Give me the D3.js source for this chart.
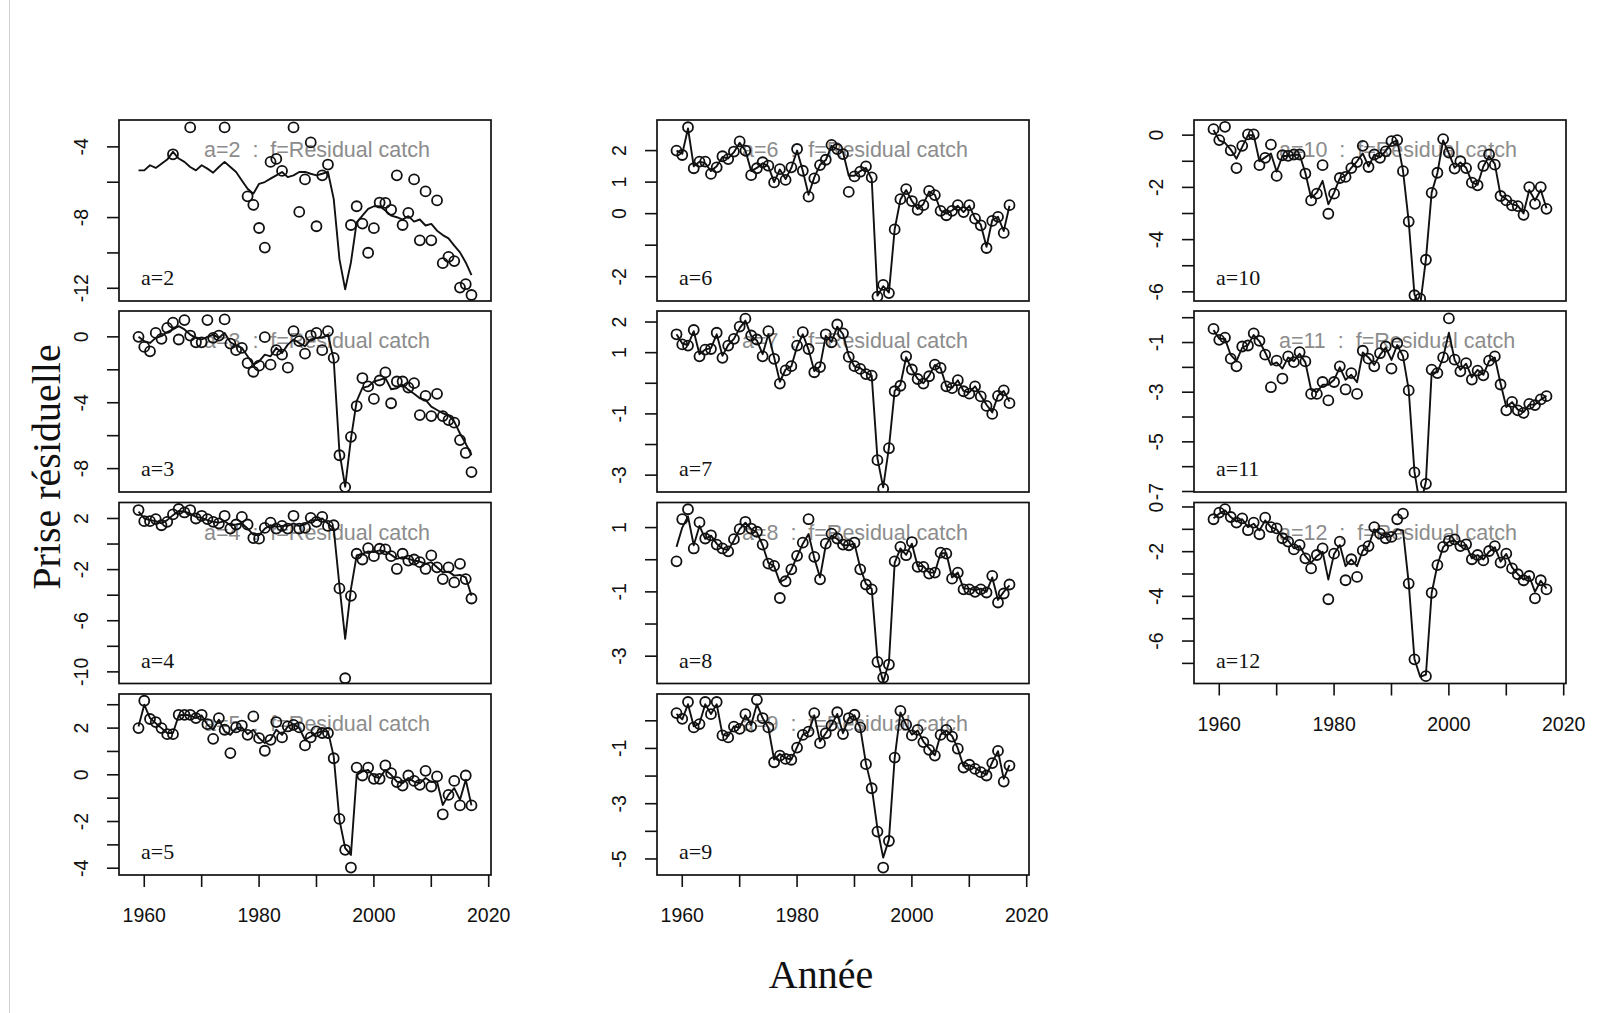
<!DOCTYPE html>
<html>
<head>
<meta charset="utf-8">
<script src="https://cdn.jsdelivr.net/npm/d3@7/dist/d3.min.js"></script>
<style>
  body { margin: 0; background: #fff; }
  svg { display: block; }
</style>
</head>
<body>
<svg id="chart"></svg>
<script>
// years 1959..2017
const years = [1959, 1960, 1961, 1962, 1963, 1964, 1965, 1966, 1967, 1968,
  1969, 1970, 1971, 1972, 1973, 1974, 1975, 1976, 1977, 1978,
  1979, 1980, 1981, 1982, 1983, 1984, 1985, 1986, 1987, 1988,
  1989, 1990, 1991, 1992, 1993, 1994, 1995, 1996, 1997, 1998,
  1999, 2000, 2001, 2002, 2003, 2004, 2005, 2006, 2007, 2008,
  2009, 2010, 2011, 2012, 2013, 2014, 2015, 2016, 2017];

// observed residual catch (circles) and fitted (line), one pair per age
const obsA2 = [null, null, null, null, null, null, -4.42, null, null, -2.9,
  null, null, null, null, null, -2.9, null, null, null, -6.8,
  -7.28, -8.59, -9.7, -4.85, -4.68, -5.36, null, -2.9, -7.68, -5.84,
  -3.75, -8.49, -5.61, -5.0, null, null, null, -8.42, -7.36, -8.34,
  -9.99, -8.6, -7.15, -7.17, -7.56, -5.61, -8.42, -7.73, -5.84, -9.29,
  -6.52, -9.29, -7.03, -10.58, -10.22, -10.46, -11.96, -11.77, -12.38];
const fitA2 = [-5.33, -5.33, -5.04, -5.19, -4.95, -4.72, -4.28, -4.66, -4.85, -5.14,
  -5.33, -5.04, -5.23, -5.46, -5.14, -4.85, -5.14, -5.42, -5.9, -6.37,
  -6.65, -6.09, -5.99, -5.8, -5.61, -5.42, -5.71, -5.61, -5.42, -5.42,
  -5.52, -5.61, -5.52, -5.42, -6.94, -10.35, -12.06, -10.54, -8.27, -7.89,
  -7.51, -7.36, -7.36, -7.6, -7.89, -7.98, -8.11, -7.92, -8.23, -8.11,
  -8.45, -8.36, -8.74, -8.99, -9.18, -9.59, -9.97, -10.54, -11.26];

const obsA3 = [0, -0.61, -0.88, 0.24, -0.12, 0.55, 0.86, -0.16, 1.02, 0.08,
  -0.33, -0.33, 1.02, -0.06, 0.08, 1.06, -0.41, -0.81, -0.67, -1.59,
  -2.12, -1.75, -0.02, -1.69, -0.81, -1.08, -1.87, 0.35, -0.26, -1.02,
  0.08, 0.24, -0.81, 0.35, -1.28, -7.19, -9.12, -6.07, -4.2, -2.5,
  -3.01, -3.77, -2.65, -2.16, -4.03, -2.71, -2.71, -3.08, -2.81, -4.75,
  -3.58, -4.81, -3.46, -4.81, -5.05, -5.21, -6.27, -7.05, -8.21];
const fitA3 = [0, -0.26, -0.37, -0.06, 0.04, 0.29, 0.45, 0.65, 0.45, 0.14,
  -0.06, -0.16, 0, 0.14, -0.06, 0.24, -0.33, -0.53, -0.67, -1.18,
  -1.69, -1.49, -1.08, -1.18, -0.67, -0.98, -0.47, -0.16, -0.37, -0.57,
  -0.16, -0.06, -0.06, 0.14, -1.38, -7.0, -9.1, -6.2, -3.9, -3.1,
  -3.01, -2.71, -2.61, -2.5, -3.18, -3.12, -2.91, -3.22, -3.46, -3.73,
  -3.83, -4.24, -4.44, -4.64, -4.75, -5.15, -5.87, -6.48, -7.19];

const obsA4 = [2.66, 1.79, 1.79, 1.95, 1.47, 1.74, 2.32, 2.74, 2.47, 2.66,
  2.0, 2.21, 1.95, 1.74, 1.61, 2.21, 1.21, 1.53, 2.13, 1.53,
  0.47, 0.42, 1.26, 1.68, 1.21, 1.42, 1.21, 2.21, 1.21, 1.26,
  2.05, 1.74, 2.13, 1.42, 1.47, -3.47, -10.5, -4.05, -0.76, -1.21,
  -0.32, -0.95, -0.37, -0.42, -0.95, -1.95, -0.76, -1.29, -1.21, -1.42,
  -1.95, -0.89, -1.82, -2.74, -1.82, -3.0, -1.55, -2.74, -4.26];
const fitA4 = [2.53, 2.0, 1.87, 1.79, 1.61, 1.87, 2.26, 2.58, 2.53, 2.39,
  2.13, 2.05, 1.87, 1.74, 1.68, 1.79, 1.47, 1.53, 1.61, 1.21,
  0.74, 0.68, 1.21, 1.47, 1.34, 1.42, 1.42, 1.61, 1.42, 1.53,
  1.87, 1.87, 2.0, 1.61, 1.21, -3.26, -7.42, -3.53, -0.89, -0.76,
  -0.58, -0.63, -0.5, -0.58, -0.84, -1.16, -1.03, -1.16, -1.29, -1.37,
  -1.55, -1.42, -1.82, -2.21, -2.16, -2.47, -2.42, -2.61, -4.05];

const obsA5 = [2.0, 3.17, 2.39, 2.26, 2.0, 1.74, 1.74, 2.57, 2.57, 2.57,
  2.43, 2.57, 2.17, 1.54, 2.43, 1.93, 0.93, 2.03, 2.11, 1.71,
  2.5, 1.57, 1.03, 1.5, 2.26, 1.6, 2.07, 2.14, 2.03, 1.26,
  1.6, 1.86, 1.79, 1.79, 0.71, -1.89, -3.21, -3.97, 0.31, -0.03,
  0.31, -0.17, -0.17, 0.4, 0.07, -0.31, -0.46, -0.03, -0.26, -0.43,
  0.17, -0.5, -0.07, -1.69, -0.86, -0.26, -1.31, -0.03, -1.31];
const fitA5 = [2.07, 3.0, 2.43, 2.21, 2.0, 1.79, 1.79, 2.54, 2.57, 2.54,
  2.43, 2.54, 2.14, 1.93, 2.36, 1.86, 1.71, 2.0, 2.03, 1.74,
  1.93, 1.57, 1.36, 1.5, 1.93, 1.71, 2.07, 2.17, 2.0, 1.5,
  1.64, 1.79, 1.86, 1.86, 0.79, -1.93, -3.14, -3.43, 0, 0.14,
  0.21, -0.07, -0.14, 0.21, 0, -0.29, -0.36, -0.14, -0.29, -0.36,
  -0.14, -0.31, -0.29, -1.29, -0.86, -0.57, -1.07, -0.21, -1.31];

const obsA6 = [2.0, 1.86, 2.74, 1.44, 1.65, 1.65, 1.26, 1.47, 1.82, 1.73,
  1.97, 2.29, 2.0, 1.22, 1.44, 1.63, 1.52, 0.99, 1.41, 1.07,
  1.47, 2.05, 1.36, 0.54, 1.12, 1.54, 1.71, 2.18, 2.05, 1.89,
  0.69, 1.18, 1.33, 1.5, 1.15, -2.63, -2.26, -2.52, -0.5, 0.46,
  0.78, 0.4, 0.12, 0.27, 0.72, 0.59, 0.09, -0.05, 0.09, 0.27,
  0.05, 0.27, -0.16, -0.37, -1.09, -0.23, -0.1, -0.61, 0.27];
const fitA6 = [2.0, 1.9, 2.7, 1.5, 1.65, 1.6, 1.35, 1.5, 1.8, 1.75,
  1.95, 2.25, 2.0, 1.35, 1.45, 1.6, 1.5, 1.0, 1.4, 1.1,
  1.45, 2.0, 1.35, 0.6, 1.15, 1.55, 1.7, 2.15, 2.05, 1.95,
  1.2, 1.2, 1.35, 1.45, 1.1, -2.6, -2.3, -2.5, -0.5, 0.45,
  0.75, 0.4, 0.15, 0.3, 0.7, 0.6, 0.1, 0, 0.1, 0.25,
  0.05, 0.25, -0.15, -0.35, -1.05, -0.2, -0.1, -0.55, 0.25];

const obsA7 = [1.6, 1.27, 1.23, 1.74, 0.88, 1.1, 1.12, 1.65, 0.83, 1.23,
  1.45, 1.85, 2.11, 1.56, 1.43, 0.88, 1.7, 0.8, -0.01, 0.42,
  0.56, 1.23, 1.67, 1.12, 0.36, 0.53, 1.6, 1.34, 1.92, 1.63,
  0.86, 0.56, 0.47, 0.3, 0.25, -2.51, -3.44, -2.12, -0.26, -0.08,
  0.88, 0.45, 0.14, -0.01, 0.23, 0.61, 0.5, -0.1, -0.16, 0.1,
  -0.26, -0.34, -0.1, -0.43, -0.74, -1.0, -0.41, -0.23, -0.65];
const fitA7 = [1.6, 1.3, 1.25, 1.7, 0.95, 1.1, 1.15, 1.6, 0.9, 1.25,
  1.45, 1.8, 2.05, 1.55, 1.4, 0.95, 1.6, 0.85, 0.05, 0.45,
  0.55, 1.2, 1.6, 1.1, 0.4, 0.55, 1.55, 1.35, 1.85, 1.6,
  0.9, 0.55, 0.5, 0.35, 0.25, -2.45, -3.4, -2.1, -0.25, -0.05,
  0.85, 0.45, 0.15, 0, 0.25, 0.6, 0.5, -0.1, -0.15, 0.1,
  -0.25, -0.3, -0.1, -0.4, -0.7, -0.95, -0.4, -0.25, -0.6];

const obsA8 = [-0.05, 1.26, 1.57, 0.35, 1.16, 0.66, 0.76, 0.47, 0.35, 0.26,
  0.64, 0.95, 1.18, 0.97, 0.87, 0.47, -0.12, -0.19, -1.19, -0.67,
  -0.3, 0.12, 0.53, 1.26, 0.09, -0.61, 0.5, 0.81, 0.66, 0.47,
  0.45, 0.53, -0.3, -0.77, -0.92, -3.18, -3.67, -3.26, -0.05, 0.4,
  0.14, 0.55, -0.22, -0.22, -0.43, -0.4, 0.22, 0.19, -0.59, -0.4,
  -0.92, -0.92, -1.0, -0.92, -1.02, -0.5, -1.33, -1.05, -0.77];
const fitA8 = [0.4, 1.0, 1.35, 0.45, 1.05, 0.65, 0.75, 0.5, 0.35, 0.3,
  0.6, 0.95, 1.15, 0.95, 0.85, 0.45, -0.1, -0.2, -0.7, -0.6,
  -0.3, 0.1, 0.5, 0.8, 0.05, -0.55, 0.45, 0.75, 0.65, 0.45,
  0.45, 0.5, -0.25, -0.75, -0.9, -3.1, -3.8, -3.2, -0.1, 0.35,
  0.15, 0.5, -0.2, -0.2, -0.4, -0.4, 0.2, 0.2, -0.55, -0.4,
  -0.9, -0.9, -0.95, -0.9, -1.0, -0.55, -1.25, -1.0, -0.8];

const obsA9 = [0.28, 0.07, 0.68, -0.24, -0.12, 0.68, 0.24, 0.68, -0.53, -0.6,
  -0.21, -0.29, 0.24, -0.21, 0.76, 0.1, -0.24, -1.5, -1.26, -1.38,
  -1.41, -0.97, -0.51, -0.39, 0.28, -0.81, -0.45, -0.17, 0.31, -0.48,
  0.1, 0.22, -0.24, -1.57, -2.44, -4.01, -5.31, -4.35, -1.33, 0.36,
  -0.14, -0.53, -0.33, -0.77, -1.05, -1.26, -0.51, -0.33, -0.57, -1.01,
  -1.69, -1.59, -1.74, -1.86, -1.98, -1.53, -1.09, -2.2, -1.62];
const fitA9 = [0.25, 0.05, 0.6, -0.2, -0.1, 0.6, 0.25, 0.6, -0.5, -0.55,
  -0.2, -0.25, 0.2, -0.15, 0.6, 0.1, -0.25, -1.4, -1.2, -1.35,
  -1.4, -0.95, -0.5, -0.4, 0.2, -0.75, -0.45, -0.15, 0.25, -0.45,
  0.1, 0.2, -0.25, -1.55, -2.4, -3.9, -4.95, -4.3, -1.35, 0.3,
  -0.15, -0.5, -0.35, -0.75, -1.0, -1.25, -0.5, -0.35, -0.55, -1.0,
  -1.65, -1.6, -1.7, -1.85, -1.95, -1.5, -1.1, -2.1, -1.6];

const obsA10 = [0.23, -0.19, 0.32, -0.58, -1.26, -0.41, 0.03, 0.03, -1.15, -0.87,
  -0.36, -1.56, -0.77, -0.79, -0.74, -0.74, -1.47, -2.5, -2.24, -1.15,
  -3.01, -2.24, -1.64, -1.6, -1.26, -1.03, -0.41, -1.22, -0.74, -0.87,
  -0.62, -0.23, -0.19, -1.38, -3.31, -6.13, -6.26, -4.77, -2.21, -1.44,
  -0.15, -0.67, -1.28, -1.0, -1.26, -1.82, -1.92, -1.18, -0.74, -1.13,
  -2.33, -2.5, -2.69, -2.72, -3.05, -1.99, -2.63, -1.99, -2.82];
const fitA10 = [0.2, -0.2, -0.3, -0.55, -0.9, -0.45, 0.0, 0.0, -1.0, -0.85,
  -0.7, -1.4, -0.8, -0.8, -0.75, -0.75, -1.45, -2.4, -2.2, -1.75,
  -2.65, -2.2, -1.65, -1.55, -1.25, -1.0, -0.7, -1.2, -0.75, -0.85,
  -0.6, -0.3, -0.2, -1.35, -3.3, -6.1, -6.5, -4.75, -2.2, -1.45,
  -0.2, -0.7, -1.25, -1.05, -1.25, -1.8, -1.9, -1.2, -0.8, -1.1,
  -2.3, -2.45, -2.65, -2.7, -3.0, -2.1, -2.5, -2.1, -2.8];

const obsA11 = [-0.45, -0.89, -0.8, -1.65, -1.96, -1.16, -1.12, -0.63, -0.93, -1.49,
  -2.8, -1.73, -2.45, -1.56, -1.79, -1.39, -1.76, -3.07, -3.07, -2.59,
  -3.33, -2.59, -1.96, -2.89, -2.23, -3.07, -1.33, -1.65, -1.96, -1.43,
  -1.16, -2.05, -1.03, -1.52, -2.93, -6.23, null, -6.69, -2.09, -2.23,
  -1.6, -0.03, -1.69, -2.16, -1.83, -2.49, -2.13, -2.32, -1.73, -1.56,
  -2.69, -3.73, -3.39, -3.73, -3.83, -3.47, -3.52, -3.29, -3.16];
const fitA11 = [-0.5, -0.85, -0.85, -1.5, -1.75, -1.2, -1.1, -0.7, -0.95, -1.4,
  -1.9, -1.8, -2.05, -1.6, -1.75, -1.45, -1.8, -2.9, -3.0, -2.7,
  -2.7, -2.5, -2.0, -2.5, -2.3, -2.6, -1.4, -1.6, -1.9, -1.5,
  -1.2, -1.7, -1.1, -1.55, -2.9, -6.2, -7.6, -6.6, -2.2, -2.2,
  -1.6, -0.6, -1.7, -2.1, -1.85, -2.4, -2.1, -2.3, -1.75, -1.6,
  -2.65, -3.6, -3.4, -3.7, -3.8, -3.5, -3.5, -3.3, -3.15];

const obsA12 = [-0.55, -0.25, -0.1, -0.45, -0.7, -0.51, -1.04, -0.7, -1.22, -0.48,
  -0.9, -0.96, -1.4, -1.55, -1.9, -1.7, -2.3, -2.75, -2.15, -1.85,
  -4.13, -2.09, -1.55, -3.28, -2.34, -3.13, -1.94, -1.75, -0.9, -1.19,
  -1.4, -1.34, -0.55, -0.3, -3.43, -6.82, null, -7.57, -3.84, -2.6,
  -1.79, -1.52, -1.45, -1.75, -1.67, -2.34, -2.15, -2.39, -1.97, -1.75,
  -2.49, -2.09, -2.75, -3.01, -3.28, -3.09, -4.09, -3.28, -3.69];
const fitA12 = [-0.5, -0.3, -0.15, -0.45, -0.65, -0.55, -0.9, -0.75, -1.05, -0.6,
  -0.9, -1.0, -1.35, -1.5, -1.85, -1.75, -2.2, -2.5, -2.2, -2.0,
  -3.25, -2.1, -1.7, -2.65, -2.35, -2.65, -1.95, -1.75, -1.0, -1.2,
  -1.35, -1.3, -1.0, -1.05, -3.4, -6.8, -7.6, -7.5, -3.85, -2.6,
  -1.8, -1.55, -1.5, -1.75, -1.7, -2.3, -2.15, -2.35, -2.0, -1.8,
  -2.45, -2.1, -2.7, -3.0, -3.25, -3.1, -3.8, -3.3, -3.65];

// x axis ticks and labels
const xTicks = [1960, 1970, 1980, 1990, 2000, 2010, 2020];
const xLabels = [1960, 1980, 2000, 2020];

const panels = [
  { age: 2, obs: obsA2, fit: fitA2, col: 0, row: 0, yDomain: [-12.72, -2.48],
    yTicks: [-4, -6, -8, -10, -12], yLabels: [-4, -8, -12] },
  { age: 3, obs: obsA3, fit: fitA3, col: 0, row: 1, yDomain: [-9.42, 1.57],
    yTicks: [0, -2, -4, -6, -8], yLabels: [0, -4, -8] },
  { age: 4, obs: obsA4, fit: fitA4, col: 0, row: 2, yDomain: [-10.91, 3.25],
    yTicks: [2, 0, -2, -4, -6, -8, -10], yLabels: [2, -2, -6, -10] },
  { age: 5, obs: obsA5, fit: fitA5, col: 0, row: 3, yDomain: [-4.29, 3.46],
    yTicks: [3, 2, 1, 0, -1, -2, -3, -4], yLabels: [2, 0, -2, -4], xAxis: true },
  { age: 6, obs: obsA6, fit: fitA6, col: 1, row: 0, yDomain: [-2.77, 2.97],
    yTicks: [2, 1, 0, -1, -2], yLabels: [2, 1, 0, -2] },
  { age: 7, obs: obsA7, fit: fitA7, col: 1, row: 1, yDomain: [-3.55, 2.36],
    yTicks: [2, 1, 0, -1, -2, -3], yLabels: [2, 1, -1, -3] },
  { age: 8, obs: obsA8, fit: fitA8, col: 1, row: 2, yDomain: [-3.85, 1.78],
    yTicks: [1, 0, -1, -2, -3], yLabels: [1, -1, -3] },
  { age: 9, obs: obsA9, fit: fitA9, col: 1, row: 3, yDomain: [-5.58, 0.97],
    yTicks: [0, -1, -2, -3, -4, -5], yLabels: [-1, -3, -5], xAxis: true },
  { age: 10, obs: obsA10, fit: fitA10, col: 2, row: 0, yDomain: [-6.35, 0.58],
    yTicks: [0, -1, -2, -3, -4, -5, -6], yLabels: [0, -2, -4, -6] },
  { age: 11, obs: obsA11, fit: fitA11, col: 2, row: 1, yDomain: [-7.02, 0.27],
    yTicks: [0, -1, -2, -3, -4, -5, -6, -7], yLabels: [-1, -3, -5, -7] },
  { age: 12, obs: obsA12, fit: fitA12, col: 2, row: 2, yDomain: [-7.9, 0.2],
    yTicks: [0, -1, -2, -3, -4, -5, -6, -7], yLabels: [0, -2, -4, -6], xAxis: true },
];

const width = 1600;
const height = 1013;
const colLeft = [119, 657, 1194];
const rowTop = [120, 311, 502.5, 694];
const panelW = 372;
const panelH = 181;
const sans = "'Liberation Sans', Arial, sans-serif";
const serif = "'Liberation Serif', 'Times New Roman', serif";

const svg = d3.select("#chart").attr("width", width).attr("height", height);

svg.append("rect").attr("width", width).attr("height", height).attr("fill", "#fff");
svg.append("line")
  .attr("x1", 9.5).attr("x2", 9.5).attr("y1", 0).attr("y2", height)
  .attr("stroke", "#cfcfcf").attr("stroke-width", 1);

panels.forEach((p) => {
  const left = colLeft[p.col];
  const top = rowTop[p.row];
  const x = d3.scaleLinear().domain([1955.6, 2020.4]).range([left, left + panelW]);
  const y = d3.scaleLinear().domain(p.yDomain).range([top + panelH, top]);

  const g = svg.append("g");
  const clipId = `clip-a${p.age}`;
  g.append("clipPath").attr("id", clipId)
    .append("rect").attr("x", left).attr("y", top).attr("width", panelW).attr("height", panelH);

  // gray caption first, the marks sit over it
  g.append("text")
    .attr("x", left + 85).attr("y", top + 37)
    .attr("fill", "#8c8c8c")
    .style("font-family", sans).style("font-size", "21.5px")
    .style("white-space", "pre")
    .text(`a=${p.age}  :  f=Residual catch`);

  const fitData = years.map((yr, i) => ({ year: yr, v: p.fit[i] }));
  const obsData = years.map((yr, i) => ({ year: yr, v: p.obs[i] })).filter((d) => d.v != null);

  const line = d3.line()
    .defined((d) => d.v != null)
    .x((d) => x(d.year))
    .y((d) => y(d.v));

  const marks = g.append("g").attr("clip-path", `url(#${clipId})`);
  marks.append("path")
    .datum(fitData)
    .attr("d", line)
    .attr("fill", "none")
    .attr("stroke", "#111")
    .attr("stroke-width", 1.9)
    .attr("stroke-linejoin", "round");

  marks.selectAll("circle")
    .data(obsData)
    .join("circle")
    .attr("cx", (d) => x(d.year))
    .attr("cy", (d) => y(d.v))
    .attr("r", 5)
    .attr("fill", "none")
    .attr("stroke", "#111")
    .attr("stroke-width", 1.8);

  g.append("rect")
    .attr("x", left).attr("y", top).attr("width", panelW).attr("height", panelH)
    .attr("fill", "none").attr("stroke", "#111").attr("stroke-width", 1.7);

  g.append("text")
    .attr("x", left + 22).attr("y", top + panelH - 16)
    .attr("fill", "#111")
    .style("font-family", serif).style("font-size", "22px")
    .text(`a=${p.age}`);

  // y axis, R style: ticks outside, labels parallel to the axis
  g.selectAll(".ytick")
    .data(p.yTicks)
    .join("line")
    .attr("class", "ytick")
    .attr("x1", left - 12).attr("x2", left)
    .attr("y1", (d) => y(d)).attr("y2", (d) => y(d))
    .attr("stroke", "#111").attr("stroke-width", 1.6);

  g.selectAll(".ylab")
    .data(p.yLabels)
    .join("text")
    .attr("class", "ylab")
    .attr("transform", (d) => `translate(${left - 38}, ${y(d)}) rotate(-90)`)
    .attr("text-anchor", "middle")
    .attr("dominant-baseline", "central")
    .attr("fill", "#111")
    .style("font-family", sans).style("font-size", "19.5px")
    .text((d) => String(d));

  if (p.xAxis) {
    const bottom = top + panelH;
    g.selectAll(".xtick")
      .data(xTicks)
      .join("line")
      .attr("class", "xtick")
      .attr("x1", (d) => x(d)).attr("x2", (d) => x(d))
      .attr("y1", bottom).attr("y2", bottom + 12)
      .attr("stroke", "#111").attr("stroke-width", 1.6);

    g.selectAll(".xlab")
      .data(xLabels)
      .join("text")
      .attr("class", "xlab")
      .attr("x", (d) => x(d))
      .attr("y", bottom + 40)
      .attr("text-anchor", "middle")
      .attr("dominant-baseline", "central")
      .attr("fill", "#111")
      .style("font-family", sans).style("font-size", "19.5px")
      .text((d) => String(d));
  }
});

svg.append("text")
  .attr("transform", "translate(60, 467) rotate(-90)")
  .attr("text-anchor", "middle")
  .attr("fill", "#111")
  .style("font-family", serif).style("font-size", "40px")
  .text("Prise résiduelle");

svg.append("text")
  .attr("x", 821).attr("y", 988)
  .attr("text-anchor", "middle")
  .attr("fill", "#111")
  .style("font-family", serif).style("font-size", "40px")
  .text("Année");
</script>
</body>
</html>
